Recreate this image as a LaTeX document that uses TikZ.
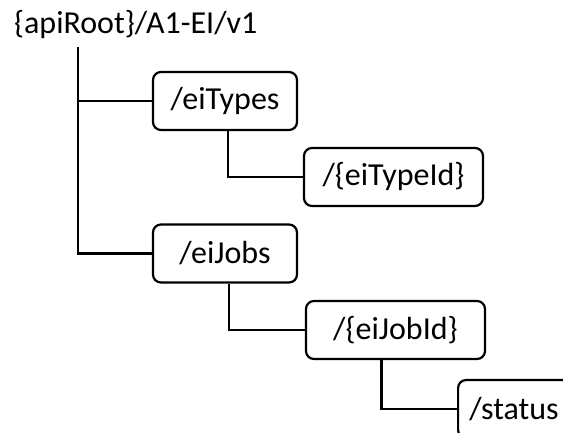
\documentclass[tikz,border=0pt]{standalone}
\usepackage{fontspec}
\setmainfont{Carlito}
\usepackage{tikz}

\begin{document}
\begin{tikzpicture}[x=1pt, y=1pt, line width=2.2pt,
    res/.style={shape=rectangle, rounded corners=8pt, draw, minimum height=58pt,
      inner xsep=4pt, font=\fontsize{32}{38}\selectfont},
    wide/.style={res, minimum width=179pt}]
    \useasboundingbox (0,0) rectangle (563,-432);
    \clip (0,0) rectangle (563,-432);

    \node[anchor=base west, inner sep=0pt, font=\fontsize{32}{38}\selectfont] (root) at (13,-33) {\{apiRoot\}/A1-EI/v1};
    \coordinate (trunk) at (78,-47);

    \node[res, minimum width=144pt] (types) at (225,-101) {/eiTypes};
    \node[wide] (typeid) at (393.5,-177) {/\{eiTypeId\}};
    \node[res, minimum width=144pt] (jobs) at (225,-253.5) {/eiJobs};
    \node[wide] (jobid) at (395.5,-330) {/\{eiJobId\}};
    \node[res, minimum width=112pt, anchor=west] (status) at (457,-409) {/status};

    \draw (trunk) |- (jobs.west);
    \draw (trunk |- types.west) -- (types.west);
    \draw ([xshift=3pt]types.south) |- (typeid.west);
    \draw ([xshift=4pt]jobs.south) |- (jobid.west);
    \draw ([xshift=-14pt]jobid.south) |- (status.west);
\end{tikzpicture}
\end{document}
